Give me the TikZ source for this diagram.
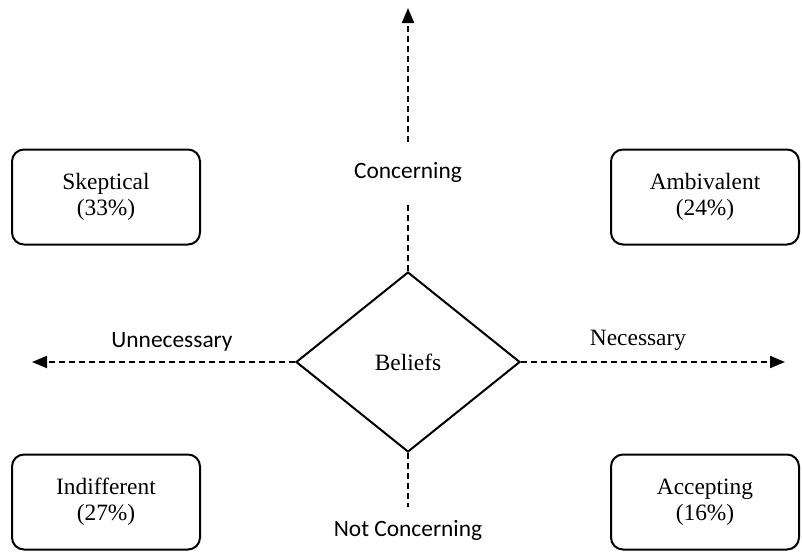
\documentclass[tikz,border=0pt]{standalone}
\usepackage{fontspec}
\setmainfont{Liberation Serif}
\newfontfamily\calibri{Carlito}
\usetikzlibrary{shapes.geometric,arrows.meta}

\tikzset{
  quad/.style={draw, line width=1pt, rounded corners=6pt, minimum width=94pt,
    minimum height=47.5pt, align=center, inner sep=0pt},
  sanslabel/.style={font=\calibri\fontsize{11.7}{13}\selectfont},
  dashaxis/.style={line width=1pt, dash pattern=on 3pt off 2pt},
  axistip/.style={-{Triangle[length=7.5pt,width=6pt]}},
}

\begin{document}
\begin{tikzpicture}[x=0.5pt,y=-0.5pt,font=\fontsize{11.7}{13}\selectfont]
  \useasboundingbox (0,0) rectangle (802,552);
  % centre
  \node[draw, diamond, line width=1pt, minimum width=112pt, minimum height=90pt,
    inner sep=0pt] (beliefs) at (408,362) {Beliefs};
  % the four groups
  \foreach \n/\px/\py/\txt in {skeptical/106/197/{Skeptical\\(33\%)},
      ambivalent/705/197/{Ambivalent\\(24\%)},
      indifferent/106/502/{Indifferent\\(27\%)},
      accepting/705/502/{Accepting\\(16\%)}}{
    \node[quad] (\n) at (\px,\py) {\txt};
  }
  % axis labels
  \node[sanslabel, minimum height=30pt, inner sep=0pt] (concern) at (408,172) {Concerning};
  \node[sanslabel, minimum height=23pt, inner sep=0pt] (notconcern) at (408,530) {Not Concerning};
  \node[sanslabel] (unnecessary) at (172,342) {Unnecessary};
  \node (necessary) at (638,340) {Necessary};
  \coordinate (upend) at (408,8);
  \coordinate (leftend) at (32,362);
  \coordinate (rightend) at (785,362);
  % axes
  \draw[dashaxis] (beliefs.north) -- (concern.south);
  \draw[dashaxis, axistip] (concern.north) -- (upend);
  \draw[dashaxis, axistip] (beliefs.west) -- (leftend);
  \draw[dashaxis, axistip] (beliefs.east) -- (rightend);
  \draw[dashaxis] (beliefs.south) -- (notconcern.north);
\end{tikzpicture}
\end{document}
